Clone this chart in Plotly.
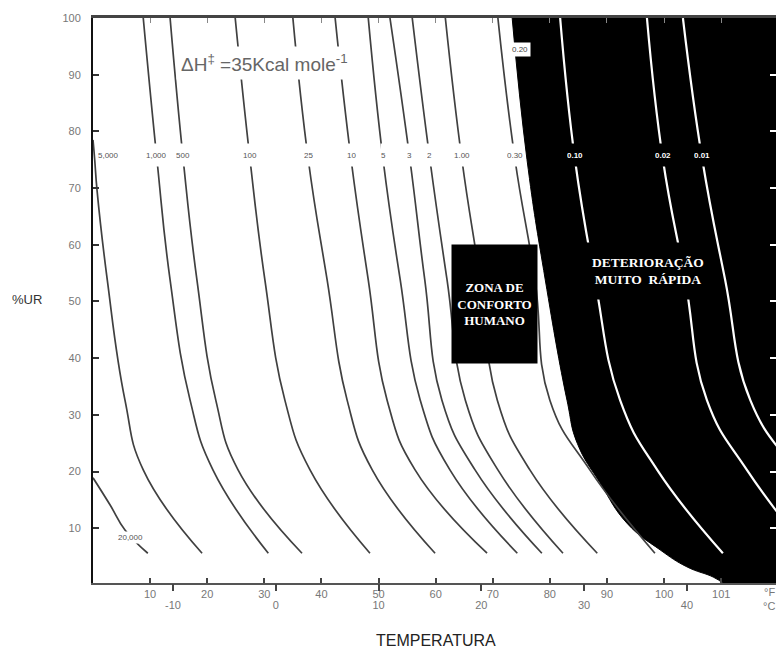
import plotly.graph_objects as go

# Relative humidity (%UR) levels at which the isoperm temperatures are read
rh_levels = [100, 75.0, 53.8, 32.6, 20.3, 5.6]

# Isoperm temperatures (°F) at those humidity levels
t_1000 = [8.8, 11.2, 13.5, 17.0, 21.0, 30.7]
t_500 = [13.5, 15.8, 18.2, 21.5, 25.4, 36.6]
t_100 = [24.9, 27.5, 30.1, 33.6, 38.0, 48.5]
t_25 = [35.0, 37.7, 41.0, 44.5, 48.9, 59.9]
t_10 = [42.4, 45.2, 48.2, 51.5, 56.4, 69.0]
t_5 = [48.2, 50.8, 53.8, 57.3, 62.5, 74.3]
t_3 = [52.0, 55.5, 58.1, 61.1, 66.9, 78.6]
t_2 = [55.9, 59.0, 62.0, 65.2, 70.9, 82.3]
t_1 = [61.7, 64.6, 67.8, 70.8, 76.5, 88.3]
t_030 = [70.9, 73.9, 77.4, 80.0, 87.0, 98.4]
t_010 = [81.8, 84.4, 87.9, 92.3, 98.8, 110.3]
t_002 = [97.0, 99.8, 103.7, 107.5, 114.5, 125.6]
t_001 = [103.3, 106.7, 110.7, 115.1, 122.9, 134.3]

# Isoperms entering from the left edge
rh_5000 = [78.5, 75.0, 69.7, 53.8, 32.6, 20.3, 5.6]
t_5000 = [0.0, 0.3, 0.7, 2.5, 5.6, 8.8, 19.1]
rh_20000 = [18.9, 14.1, 9.7, 5.6]
t_20000 = [0.0, 3.0, 5.6, 9.6]

# 0.20 isoperm: edge of the rapid-deterioration zone
rh_020 = [100, 75.0, 53.8, 32.6, 25.0, 18.0, 10.9, 6.2, 3.2, 1.4, 0.35]
t_020 = [73.4, 76.0, 79.2, 83.0, 84.8, 88.8, 93.5, 99.3, 104.0, 108.6, 110.3]

# Curve labels
dark_labels = ["1,000", "500", "100", "25", "10", "5", "3", "2", "1.00", "0.30"]
light_labels = ["0.10", "0.02", "0.01"]

# Axis ticks
f_ticks = [10, 20, 30, 40, 50, 60, 70, 80, 90, 100, 110]
f_text = ["10", "20", "30", "40", "50", "60", "70", "80", "90", "100", "101"]
c_ticks = [-10, 0, 10, 20, 30, 40]
rh_ticks = [10, 20, 30, 40, 50, 60, 70, 80, 90, 100]

dark_series = [t_1000, t_500, t_100, t_25, t_10, t_5, t_3, t_2, t_1, t_030]
light_series = [t_010, t_002, t_001]

X_RANGE = [0, 119.6]
Y_RANGE = [0.35, 100]
SANS = "Liberation Sans, Arial, sans-serif"
SERIF = "Liberation Serif, Times New Roman, serif"

fig = go.Figure()

# Black zone: filled between the right edge and the 0.20 isoperm
fig.add_trace(go.Scatter(x=[140, 140], y=[115, -10], mode="lines",
                         line=dict(width=0, color="black"),
                         hoverinfo="skip", showlegend=False))
fig.add_trace(go.Scatter(x=t_020, y=rh_020, mode="lines", fill="tonextx",
                         fillcolor="black",
                         line=dict(color="black", width=1, shape="spline",
                                   smoothing=1.3),
                         hoverinfo="skip", showlegend=False))

line_dark = dict(color="#404040", width=1.7, shape="spline", smoothing=1.3)
line_light = dict(color="white", width=2.2, shape="spline", smoothing=1.3)

fig.add_trace(go.Scatter(x=t_20000, y=rh_20000, mode="lines", line=line_dark,
                         hoverinfo="skip", showlegend=False))
fig.add_trace(go.Scatter(x=t_5000, y=rh_5000, mode="lines", line=line_dark,
                         hoverinfo="skip", showlegend=False))
for ts in dark_series:
    fig.add_trace(go.Scatter(x=ts, y=rh_levels, mode="lines", line=line_dark,
                             hoverinfo="skip", showlegend=False))
for ts in light_series:
    fig.add_trace(go.Scatter(x=ts, y=rh_levels, mode="lines", line=line_light,
                             hoverinfo="skip", showlegend=False))

# Empty traces so the overlay axes (Celsius scale, top and right ticks) render
fig.add_trace(go.Scatter(x=[], y=[], xaxis="x2", yaxis="y", showlegend=False,
                         hoverinfo="skip"))
fig.add_trace(go.Scatter(x=[], y=[], xaxis="x3", yaxis="y", showlegend=False,
                         hoverinfo="skip"))
fig.add_trace(go.Scatter(x=[], y=[], xaxis="x", yaxis="y2", showlegend=False,
                         hoverinfo="skip"))

annotations = []

LABEL_RH = 75.8
for name, ts in zip(dark_labels, dark_series):
    annotations.append(dict(x=ts[1], y=LABEL_RH, text=name, showarrow=False,
                            font=dict(family=SANS, size=8, color="#555"),
                            bgcolor="white", height=22, borderpad=0))
for name, ts in zip(light_labels, light_series):
    annotations.append(dict(x=ts[1], y=LABEL_RH, text="<b>" + name + "</b>",
                            showarrow=False,
                            font=dict(family=SANS, size=8, color="white"),
                            bgcolor="black", height=22, borderpad=0))
annotations.append(dict(x=t_5000[1], y=LABEL_RH, text="5,000", showarrow=False,
                        xanchor="left", xshift=2,
                        font=dict(family=SANS, size=8, color="#555"),
                        bgcolor="white", height=22, borderpad=0))
annotations.append(dict(x=6.6, y=8.3, text="20,000", showarrow=False,
                        font=dict(family=SANS, size=8, color="#555"),
                        bgcolor="white", borderpad=1))
annotations.append(dict(x=t_020[0], y=94.4, text="0.20", showarrow=False,
                        xanchor="left", xshift=-3,
                        font=dict(family=SANS, size=8, color="#444"),
                        bgcolor="white", borderpad=2))

# Activation energy note
annotations.append(dict(x=30.0, y=92.1,
                        text="ΔH<sup>‡</sup> =35Kcal mole<sup>-1</sup>",
                        showarrow=False,
                        font=dict(family=SANS, size=19, color="#666"),
                        bgcolor="white", borderpad=4))

# Zone boxes
annotations.append(dict(x=70.3, y=49.6,
                        text="<b>ZONA DE<br>CONFORTO<br>HUMANO</b>",
                        showarrow=False, width=85, height=118,
                        font=dict(family=SERIF, size=13, color="white"),
                        bgcolor="black", borderpad=0))
annotations.append(dict(x=97.2, y=55.4,
                        text="<b>DETERIORAÇÃO<br>MUITO  RÁPIDA</b>",
                        showarrow=False, width=130, height=56,
                        font=dict(family=SERIF, size=13.5, color="white"),
                        bgcolor="black", borderpad=0))

# Unit markers at the end of the temperature axis
annotations.append(dict(x=118.4, y=Y_RANGE[0], text="°F", showarrow=False,
                        yanchor="middle", yshift=-9,
                        font=dict(family=SANS, size=11, color="#777")))
annotations.append(dict(x=118.4, y=Y_RANGE[0], text="°C", showarrow=False,
                        yanchor="middle", yshift=-23,
                        font=dict(family=SANS, size=11, color="#777")))

# Axis titles
annotations.append(dict(xref="paper", yref="y", x=-0.097, y=50.3, text="%UR",
                        showarrow=False, xanchor="center",
                        font=dict(family=SANS, size=13, color="#333")))
annotations.append(dict(xref="x", yref="paper", x=60.1, y=-0.101,
                        text="TEMPERATURA", showarrow=False,
                        yanchor="middle",
                        font=dict(family=SANS, size=16, color="#222")))

tick_font = dict(family=SANS, size=11, color="#777")

fig.update_layout(
    width=776, height=652,
    margin=dict(l=93, r=0, t=18, b=69),
    paper_bgcolor="white", plot_bgcolor="white",
    showlegend=False,
    annotations=annotations,
    xaxis=dict(range=X_RANGE, tickvals=f_ticks, ticktext=f_text,
               ticks="inside", ticklen=5, tickcolor="#444", tickwidth=1.5,
               showline=True, linecolor="#555", linewidth=2,
               showgrid=False, zeroline=False, tickfont=tick_font,
               automargin=False),
    xaxis2=dict(range=X_RANGE, overlaying="x", side="bottom", anchor="y",
                tickvals=[c * 9 / 5 + 32 for c in c_ticks],
                ticktext=[str(c) for c in c_ticks],
                ticks="outside", ticklen=7, tickcolor="#444", tickwidth=1.5,
                showline=False, showgrid=False, zeroline=False,
                ticklabelstandoff=5, tickfont=tick_font, automargin=False),
    xaxis3=dict(range=X_RANGE, overlaying="x", side="top", anchor="y",
                tickvals=f_ticks, ticks="inside", ticklen=5,
                tickcolor="#888", showticklabels=False,
                showline=True, linecolor="#444", linewidth=2.5,
                showgrid=False, zeroline=False, automargin=False),
    yaxis=dict(range=Y_RANGE, tickvals=rh_ticks,
               ticks="inside", ticklen=6, tickcolor="#333", tickwidth=1.5,
               showline=True, linecolor="#111", linewidth=2,
               showgrid=False, zeroline=False, tickfont=tick_font,
               ticklabelstandoff=8, automargin=False),
    yaxis2=dict(range=Y_RANGE, overlaying="y", side="right", anchor="x",
                tickvals=rh_ticks[:-1], ticks="inside", ticklen=6,
                tickcolor="white", tickwidth=2, showticklabels=False,
                showline=False, showgrid=False, zeroline=False,
                automargin=False),
)

fig.write_html("out.html")
